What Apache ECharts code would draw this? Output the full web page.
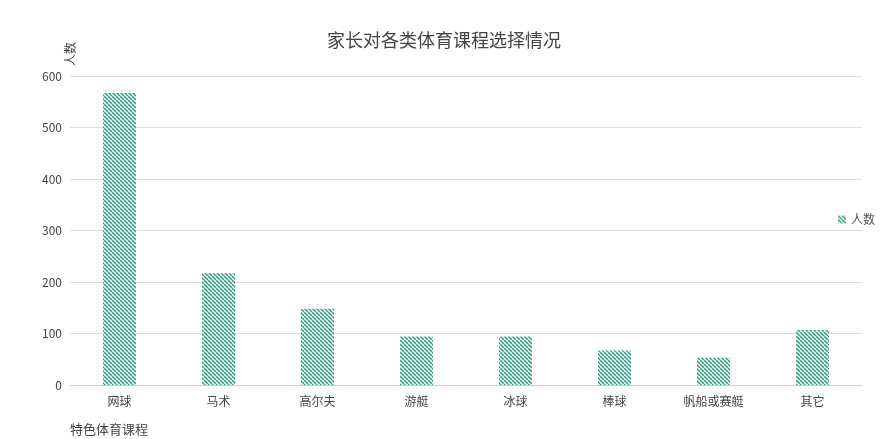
<!DOCTYPE html><html><head><meta charset="utf-8"><script src="https://cdn.jsdelivr.net/npm/echarts@6/dist/echarts.min.js"></script></head><body style="margin:0"><div id="c" style="width:888px;height:439px"></div><script>
const categories=['网球','马术','高尔夫','游艇','冰球','棒球','帆船或赛艇','其它'];
const values=[567,217,148,94,94,67,53,107];
function pat(){const c=document.createElement('canvas');c.width=6;c.height=6;const g=c.getContext('2d');g.fillStyle='#fff';g.fillRect(0,0,6,6);g.strokeStyle='#3aa68c';g.lineWidth=2;
for(let k=-6;k<=12;k+=4){g.beginPath();g.moveTo(k,0);g.lineTo(k+6,6);g.stroke();}return c;}
// adjust period: draw with repeat size 4
function pat2(){const c=document.createElement('canvas');c.width=4;c.height=4;const g=c.getContext('2d');g.fillStyle='#fff';g.fillRect(0,0,4,4);g.strokeStyle='#3aa68c';g.lineWidth=1.6;
for(let k=-4;k<=4;k+=4){g.beginPath();g.moveTo(k,0);g.lineTo(k+4,4);g.stroke();}return c;}
const col={image:pat2(),repeat:'repeat'};
const ch=echarts.init(document.getElementById('c'));
const f='"Noto Sans CJK SC"';
ch.setOption({textStyle:{fontFamily:f},
title:{text:'家长对各类体育课程选择情况',left:'center',top:26,textStyle:{fontSize:18,fontWeight:'normal',color:'#444',fontFamily:f}},
legend:{orient:'vertical',right:8,top:'middle',itemWidth:8,itemHeight:8,icon:'rect',textStyle:{fontSize:12,color:'#555'},data:['人数']},
grid:{left:70,right:26,top:76,bottom:54},
xAxis:{type:'category',data:categories,name:'特色体育课程',nameLocation:'start',nameGap:0,
 nameTextStyle:{align:'left',verticalAlign:'top',padding:[38,0,0,0],color:'#444',fontSize:13},
 axisTick:{show:false},axisLine:{lineStyle:{color:'#ccc'}},axisLabel:{color:'#444',fontSize:12,margin:10}},
yAxis:{type:'value',min:0,max:600,interval:100,name:'人数',nameLocation:'end',nameRotate:90,nameGap:10,
 nameTextStyle:{color:'#444',fontSize:12,padding:[0,0,30,0]},
 axisLabel:{color:'#444',fontSize:12},splitLine:{lineStyle:{color:'#ddd'}},axisLine:{show:false},axisTick:{show:false}},
series:[{type:'bar',name:'人数',data:values,barWidth:33,itemStyle:{color:col}}]});
</script></body></html>
